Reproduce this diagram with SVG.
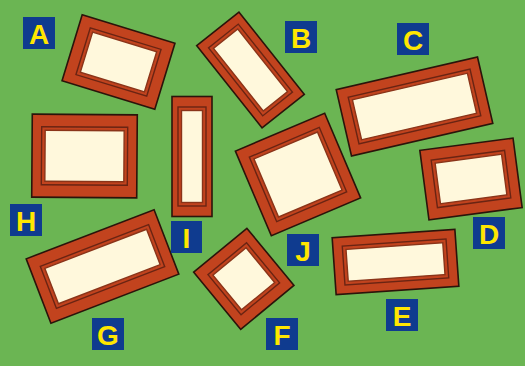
<svg xmlns="http://www.w3.org/2000/svg" width="525" height="366" viewBox="0 0 525 366">
<style>
.o{fill:#C2431E;stroke:#2b140b;stroke-width:1.6}
.l{fill:none;stroke:#6a2413;stroke-width:1.4}
.c{fill:#FFF8DC;stroke:#8a3419;stroke-width:1.4}
.b{fill:#0F3B8F}
.t{fill:#FFE600;font-family:"Liberation Sans",Arial,sans-serif;font-weight:bold;font-size:28px;text-anchor:middle}
</style>
<rect width="525" height="366" fill="#6BB553"/>
<g id="frameA" transform="translate(118.5,62) rotate(17)">
<rect class="o" x="-48.5" y="-34.5" width="97" height="69"/>
<rect class="l" x="-37" y="-24.5" width="74" height="49"/>
<rect class="c" x="-33.5" y="-21" width="67" height="42"/>
</g>
<g id="frameB" transform="translate(250.5,70) rotate(51.5)">
<rect class="o" x="-52.5" y="-27" width="105" height="54"/>
<rect class="l" x="-43.5" y="-19" width="87" height="38"/>
<rect class="c" x="-40" y="-15.5" width="80" height="31"/>
</g>
<g id="frameC" transform="translate(414.5,106.5) rotate(-13)">
<rect class="o" x="-72.5" y="-34" width="145" height="68"/>
<rect class="l" x="-62.5" y="-24" width="125" height="48"/>
<rect class="c" x="-59" y="-20.5" width="118" height="41"/>
</g>
<g id="frameD" transform="translate(471,179) rotate(-7.5)">
<rect class="o" x="-47" y="-35" width="94" height="70"/>
<rect class="l" x="-37" y="-24" width="74" height="48"/>
<rect class="c" x="-33.5" y="-20.5" width="67" height="41"/>
</g>
<g id="frameH" transform="translate(84.5,156) rotate(0.4)">
<rect class="o" x="-52.5" y="-41.5" width="105" height="83"/>
<rect class="l" x="-43" y="-29" width="86" height="58"/>
<rect class="c" x="-39.5" y="-25.5" width="79" height="51"/>
</g>
<g id="frameI" transform="translate(192,156.5)">
<rect class="o" x="-20" y="-60" width="40" height="120"/>
<rect class="l" x="-14" y="-49.5" width="28" height="99"/>
<rect class="c" x="-10.5" y="-46" width="21" height="92"/>
</g>
<g id="frameJ" transform="translate(298,174.5) rotate(-23)">
<rect class="o" x="-48.5" y="-46" width="97" height="92"/>
<rect class="l" x="-38" y="-35" width="76" height="70"/>
<rect class="c" x="-34.5" y="-31.5" width="69" height="63"/>
</g>
<g id="frameG" transform="translate(102.5,266.5) rotate(-21)">
<rect class="o" x="-68.5" y="-34.5" width="137" height="69"/>
<rect class="l" x="-58" y="-22.5" width="116" height="45"/>
<rect class="c" x="-54.5" y="-19" width="109" height="38"/>
</g>
<g id="frameF" transform="translate(243.8,278.8) rotate(-39.5)">
<rect class="o" x="-34.5" y="-37" width="69" height="74"/>
<rect class="l" x="-25" y="-26" width="50" height="52"/>
<rect class="c" x="-21.5" y="-22.5" width="43" height="45"/>
</g>
<g id="frameE" transform="translate(395.5,262) rotate(-4)">
<rect class="o" x="-61.5" y="-28.5" width="123" height="57"/>
<rect class="l" x="-52" y="-19.5" width="104" height="39"/>
<rect class="c" x="-48.5" y="-16" width="97" height="32"/>
</g>
<g id="labelA"><rect class="b" x="23" y="17" width="32" height="32"/><text class="t" x="39" y="44">A</text></g>
<g id="labelB"><rect class="b" x="285" y="21" width="32" height="32"/><text class="t" x="301" y="48">B</text></g>
<g id="labelC"><rect class="b" x="397" y="23" width="32" height="32"/><text class="t" x="413" y="50">C</text></g>
<g id="labelD"><rect class="b" x="473" y="217" width="32" height="32"/><text class="t" x="489" y="244">D</text></g>
<g id="labelE"><rect class="b" x="386" y="299" width="32" height="32"/><text class="t" x="402" y="326">E</text></g>
<g id="labelF"><rect class="b" x="266" y="318" width="32" height="32"/><text class="t" x="282" y="345">F</text></g>
<g id="labelG"><rect class="b" x="92" y="318" width="32" height="32"/><text class="t" x="108" y="345">G</text></g>
<g id="labelH"><rect class="b" x="10" y="204" width="32" height="32"/><text class="t" x="26" y="231">H</text></g>
<g id="labelI"><rect class="b" x="171" y="221" width="31" height="32"/><text class="t" x="186.5" y="248">I</text></g>
<g id="labelJ"><rect class="b" x="287" y="234" width="32" height="32"/><text class="t" x="303" y="261">J</text></g>
</svg>
